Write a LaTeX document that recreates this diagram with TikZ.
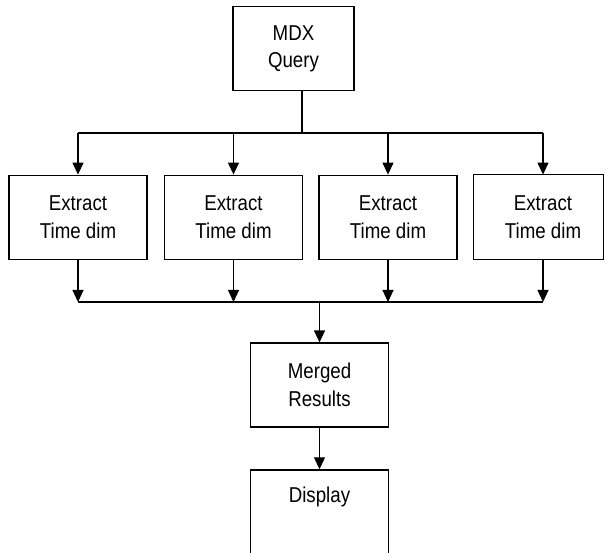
\documentclass[tikz,border=0pt]{standalone}
\usepackage{fontspec}
\setmainfont[FakeStretch=0.87]{Liberation Sans}
\usetikzlibrary{arrows.meta}

\begin{document}
\begin{tikzpicture}[x=1pt,y=-1pt,
		stage/.style={rectangle,draw,line width=1.2pt,minimum width=138pt,minimum height=84pt,
			align=center,inner sep=0pt,font=\fontsize{21.5pt}{27.5pt}\selectfont},
		wire/.style={line width=1.2pt},
		flow/.style={line width=1.2pt,-{Triangle[width=11pt,length=12pt]}}]
			\useasboundingbox (0,0) rectangle (605,553);
			\clip (0,0) rectangle (605,553);

			\node[stage,minimum width=121pt] (mdx) at (293.5,48.7) {MDX\\Query};
			\node[stage] (ex1) at (78,217.2) {Extract\\Time dim};
			\node[stage] (ex2) at (233.5,217.2) {Extract\\Time dim};
			\node[stage] (ex3) at (388,217.2) {Extract\\Time dim};
			\node[stage,draw=none] (ex4) at (543,217.2) {Extract\\Time dim};
			\draw[wire] (ex4.north west) rectangle ([xshift=-9pt]ex4.south east);
			\node[stage] (merged) at (319.5,385) {Merged\\Results};
			\node[stage,anchor=north,minimum height=0pt,text height=15pt,text depth=90pt,inner ysep=17.5pt] (display) at (319.5,469.3) {Display};

			\coordinate (fork) at (302,133);
			\coordinate (join) at (319.5,302);

			% fan out from the query
			\draw[wire] (fork |- mdx.south) -- (fork);
			\draw[wire] (ex1.north |- fork) -- (ex4.north |- fork);
			\foreach \n in {ex1,ex2,ex3,ex4}
				\draw[flow] (\n.north |- fork) -- (\n.north);

			% collect the results
			\foreach \n in {ex1,ex2,ex3,ex4}
				\draw[flow] (\n.south) -- (\n.south |- join);
			\draw[wire] (ex1.south |- join) -- (ex4.south |- join);
			\draw[flow] (join) -- (merged);
			\draw[flow] (merged) -- (display);
		\end{tikzpicture}
\end{document}
